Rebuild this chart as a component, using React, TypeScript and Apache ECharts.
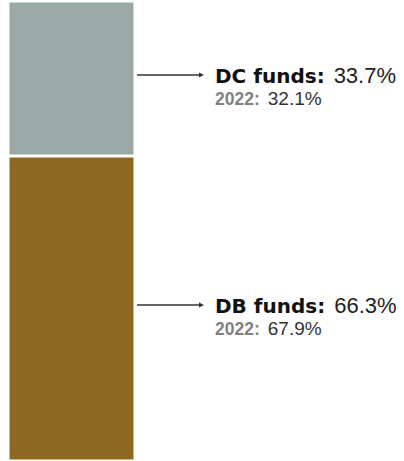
import React, { useEffect, useRef } from "react";
import * as echarts from "echarts";

const categories = ["Funds"];
const seriesNames = ["DB funds", "DC funds"];
const values2023 = [66.3, 33.7];
const values2022 = [67.9, 32.1];
const colors = ["#8e6820", "#9aa8a6"];

export default function App() {
  const ref = useRef<HTMLDivElement>(null);
  useEffect(() => {
    if (!ref.current) return;
    const chart = echarts.init(ref.current, undefined, { renderer: "svg" });
    const annot: any[] = [];
    let acc = 0;
    values2023.forEach((v) => {
      annot.push([0, acc + v / 2]);
      acc += v;
    });
    const barSeries = seriesNames.map((name, i) => ({
      name,
      type: "bar",
      stack: "total",
      barWidth: "100%",
      data: [values2023[i]],
      itemStyle: { color: colors[i], borderColor: "#ffffff", borderWidth: 1.5 },
      silent: true,
    }));
    const option: any = {
      animation: false,
      grid: { left: 8, right: 269, top: 1, bottom: 0 },
      xAxis: { type: "category", data: categories, show: false, boundaryGap: true },
      yAxis: { type: "value", min: 0, max: 100, show: false },
      series: [
        ...barSeries,
        {
          type: "custom",
          silent: true,
          clip: false,
          z: 10,
          data: annot,
          renderItem: (params: any, api: any) => {
            const i = params.dataIndex;
            const c = api.coord([api.value(0), api.value(1)]);
            const band = api.size([1, 0])[0];
            const x0 = c[0] + band / 2 + 2;
            const y = c[1] - 3.5;
            const x1 = x0 + 67;
            const tx = x1 + 11;
            return {
              type: "group",
              children: [
                {
                  type: "line",
                  shape: { x1: x0, y1: y, x2: x1 - 4, y2: y },
                  style: { stroke: "#333333", lineWidth: 1.3 },
                },
                {
                  type: "polygon",
                  shape: { points: [[x1 - 5, y - 2.5], [x1, y], [x1 - 5, y + 2.5]] },
                  style: { fill: "#333333" },
                },
                {
                  type: "text",
                  x: tx,
                  y: y + 0.5,
                  style: {
                    text: `{b|${seriesNames[i]}:}{v|${values2023[i].toFixed(1)}%}`,
                    verticalAlign: "middle",
                    align: "left",
                    rich: {
                      b: { fontFamily: "DejaVu Sans", fontWeight: "bold", fontSize: 20, fill: "#111111" },
                      v: { fontFamily: "Liberation Sans", fontSize: 22, fill: "#222222", padding: [0, 0, 0, 9] },
                    },
                  },
                },
                {
                  type: "text",
                  x: tx,
                  y: y + 23.5,
                  style: {
                    text: `{g|2022:}{w|${values2022[i].toFixed(1)}%}`,
                    verticalAlign: "middle",
                    align: "left",
                    rich: {
                      g: { fontFamily: "Liberation Sans", fontWeight: "bold", fontSize: 17.5, fill: "#7f7f7f" },
                      w: { fontFamily: "Liberation Sans", fontSize: 19, fill: "#333333", padding: [0, 0, 0, 8] },
                    },
                  },
                },
              ],
            };
          },
        },
      ],
    };
    chart.setOption(option);
    return () => chart.dispose();
  }, []);
  return (
    <div
      ref={ref}
      style={{ position: "absolute", left: 0, top: 0, width: 404, height: 461 }}
    />
  );
}
